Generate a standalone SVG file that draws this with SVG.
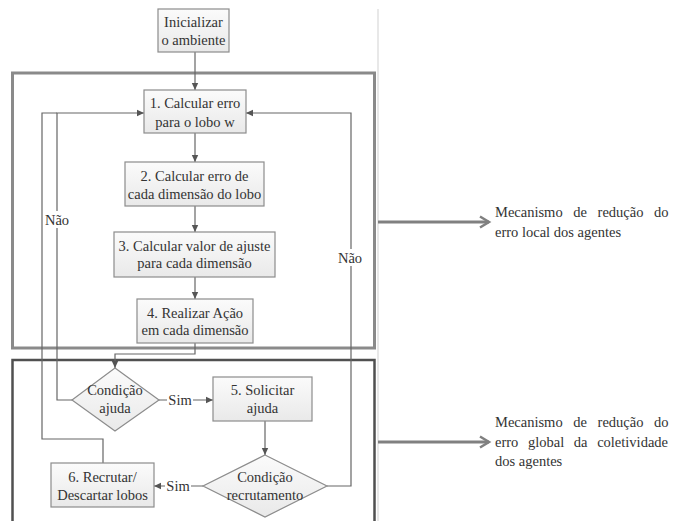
<svg xmlns="http://www.w3.org/2000/svg" width="680" height="521" viewBox="0 0 680 521">
<style>
text{font-family:"Liberation Serif","Times New Roman","DejaVu Serif",Times,serif;font-size:14.5px;fill:#333;}
.c{text-anchor:middle;}
.node{fill:url(#g);stroke:#8c8c8c;stroke-width:1.2;}
.conn{fill:none;stroke:#666;stroke-width:1.2;}
.lbl{fill:#fff;stroke:none;}
</style>
<defs>
<linearGradient id="g" x1="0" y1="0" x2="0" y2="1">
<stop offset="0" stop-color="#fbfbfb"/>
<stop offset="1" stop-color="#e9e9e9"/>
</linearGradient>
<marker id="a" markerWidth="8" markerHeight="8" refX="7" refY="4" orient="auto" markerUnits="userSpaceOnUse">
<path d="M0,0.8 L7,4 L0,7.2 Z" fill="#555"/>
</marker>
<marker id="b" markerWidth="14" markerHeight="14" refX="11" refY="7" orient="auto" markerUnits="userSpaceOnUse">
<path d="M2,1.5 L11,7 L2,12.5" fill="none" stroke="#808080" stroke-width="2.5"/>
</marker>
</defs>
<line x1="378" y1="9" x2="378" y2="521" stroke="#e0e0e0" stroke-width="1.5"/>
<rect x="12.5" y="73" width="362" height="275" fill="none" stroke="#8a8a8a" stroke-width="3"/>
<rect x="12.5" y="360" width="362" height="170" fill="none" stroke="#505050" stroke-width="2.5"/>
<g id="connectors">
<line class="conn" x1="195" y1="52" x2="195" y2="90" marker-end="url(#a)"/>
<line class="conn" x1="195" y1="133" x2="195" y2="162" marker-end="url(#a)"/>
<line class="conn" x1="195" y1="206" x2="195" y2="232" marker-end="url(#a)"/>
<line class="conn" x1="195" y1="277" x2="195" y2="299" marker-end="url(#a)"/>
<polyline class="conn" points="195,343 195,354 115,354 115,368" marker-end="url(#a)"/>
<line class="conn" x1="159" y1="400" x2="213" y2="400" marker-end="url(#a)"/>
<line class="conn" x1="265" y1="421" x2="265" y2="455" marker-end="url(#a)"/>
<polyline class="conn" points="327,486 351,486 351,113 246,113" marker-end="url(#a)"/>
<polyline class="conn" points="72,400 57,400 57,113 144,113" marker-end="url(#a)"/>
<polyline class="conn" points="103,463 103,439 42,439 42,113 57,113"/>
<line class="conn" x1="203" y1="486" x2="154" y2="486" marker-end="url(#a)"/>
<line x1="378" y1="222" x2="489" y2="222" stroke="#808080" stroke-width="3" marker-end="url(#b)"/>
<line x1="378" y1="442" x2="489" y2="442" stroke="#808080" stroke-width="3" marker-end="url(#b)"/>
<rect class="lbl" x="167" y="391" width="26" height="17"/>
<text class="c" x="180" y="405">Sim</text>
<rect class="lbl" x="165" y="477" width="26" height="17"/>
<text class="c" x="178" y="491">Sim</text>
<rect class="lbl" x="45" y="211" width="25" height="17"/>
<text class="c" x="57" y="225">Não</text>
<rect class="lbl" x="338" y="249" width="25" height="17"/>
<text class="c" x="350" y="263">Não</text>
</g>
<g id="n0"><rect class="node" x="158" y="9" width="71" height="43"/>
<text class="c" x="193.5" y="27">Inicializar</text><text class="c" x="193.5" y="45">o ambiente</text></g>
<g id="n1"><rect class="node" x="144" y="90" width="102" height="43"/>
<text class="c" x="195" y="108">1. Calcular erro</text><text class="c" x="195" y="127">para o lobo w</text></g>
<g id="n2"><rect class="node" x="125" y="162" width="139" height="44"/>
<text class="c" x="194.5" y="181">2. Calcular erro de</text><text class="c" x="194.5" y="199">cada dimensão do lobo</text></g>
<g id="n3"><rect class="node" x="114" y="232" width="161" height="45"/>
<text class="c" x="194.5" y="251">3. Calcular valor de ajuste</text><text class="c" x="194.5" y="268">para cada dimensão</text></g>
<g id="n4"><rect class="node" x="137" y="299" width="116" height="44"/>
<text class="c" x="195" y="318">4. Realizar Ação</text><text class="c" x="195" y="335">em cada dimensão</text></g>
<g id="d1"><polygon class="node" points="115,368 159,400 115,431 72,400"/>
<text class="c" x="115" y="395">Condição</text><text class="c" x="115" y="413">ajuda</text></g>
<g id="n5"><rect class="node" x="213" y="377" width="99" height="44"/>
<text class="c" x="262.5" y="395">5. Solicitar</text><text class="c" x="262.5" y="413">ajuda</text></g>
<g id="d2"><polygon class="node" points="265,455 327,486 265,517 203,486"/>
<text class="c" x="265" y="482">Condição</text><text class="c" x="265" y="500">recrutamento</text></g>
<g id="n6"><rect class="node" x="51" y="463" width="103" height="44"/>
<text class="c" x="102.5" y="482">6. Recrutar/</text><text class="c" x="102.5" y="500">Descartar lobos</text></g>
<g id="t1">
<text x="495" y="217" word-spacing="7">Mecanismo de redução do</text>
<text x="495" y="237">erro local dos agentes</text>
</g>
<g id="t2">
<text x="495" y="427" word-spacing="7">Mecanismo de redução do</text>
<text x="495" y="447" word-spacing="6">erro global da coletividade</text>
<text x="495" y="466">dos agentes</text>
</g>
</svg>
